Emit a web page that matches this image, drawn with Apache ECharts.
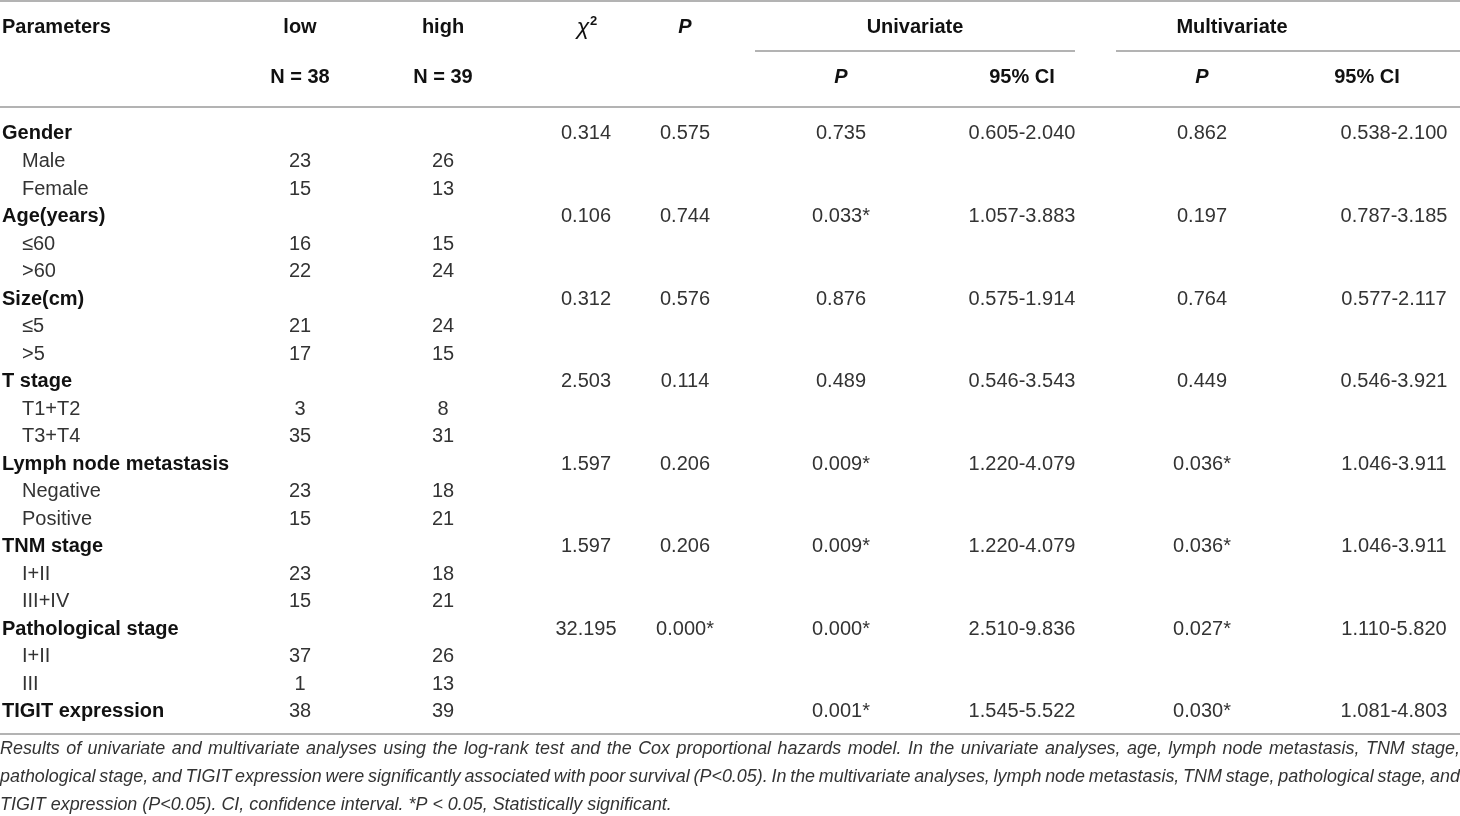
<!DOCTYPE html>
<html lang="en">
<head>
<meta charset="UTF-8">
<title>TIGIT expression table</title>
<style>
    html, body { margin: 0; padding: 0; background: #fff; }
    #main { width: 1460px; height: 816px; }
</style>
</head>
<body>
<div id="main"></div>
<script src="https://cdn.jsdelivr.net/npm/echarts@6.0.0/dist/echarts.min.js"></script>
<script>
    // 表格数据
    const rowLabels = ['Gender', 'Male', 'Female', 'Age(years)', '≤60', '>60', 'Size(cm)', '≤5', '>5',
        'T stage', 'T1+T2', 'T3+T4', 'Lymph node metastasis', 'Negative', 'Positive', 'TNM stage', 'I+II', 'III+IV',
        'Pathological stage', 'I+II', 'III', 'TIGIT expression'];
    const rowIsGroup = [1, 0, 0, 1, 0, 0, 1, 0, 0, 1, 0, 0, 1, 0, 0, 1, 0, 0, 1, 0, 0, 1];
    const lowN   = ['', '23', '15', '', '16', '22', '', '21', '17', '', '3', '35', '', '23', '15', '', '23', '15', '', '37', '1', '38'];
    const highN  = ['', '26', '13', '', '15', '24', '', '24', '15', '', '8', '31', '', '18', '21', '', '18', '21', '', '26', '13', '39'];
    const chiSq  = ['0.314', '', '', '0.106', '', '', '0.312', '', '', '2.503', '', '', '1.597', '', '', '1.597', '', '', '32.195', '', '', ''];
    const chiP   = ['0.575', '', '', '0.744', '', '', '0.576', '', '', '0.114', '', '', '0.206', '', '', '0.206', '', '', '0.000*', '', '', ''];
    const uniP   = ['0.735', '', '', '0.033*', '', '', '0.876', '', '', '0.489', '', '', '0.009*', '', '', '0.009*', '', '', '0.000*', '', '', '0.001*'];
    const uniCI  = ['0.605-2.040', '', '', '1.057-3.883', '', '', '0.575-1.914', '', '', '0.546-3.543', '', '', '1.220-4.079', '', '', '1.220-4.079', '', '', '2.510-9.836', '', '', '1.545-5.522'];
    const multiP = ['0.862', '', '', '0.197', '', '', '0.764', '', '', '0.449', '', '', '0.036*', '', '', '0.036*', '', '', '0.027*', '', '', '0.030*'];
    const multiCI = ['0.538-2.100', '', '', '0.787-3.185', '', '', '0.577-2.117', '', '', '0.546-3.921', '', '', '1.046-3.911', '', '', '1.046-3.911', '', '', '1.110-5.820', '', '', '1.081-4.803'];

    // 表头
    const headTop = ['Parameters', 'low', 'high', 'χ', 'P', 'Univariate', 'Multivariate'];
    const headBottom = ['N = 38', 'N = 39', 'P', '95% CI', 'P', '95% CI'];

    const footnote = [
        'Results of univariate and multivariate analyses using the log-rank test and the Cox proportional hazards model. In the univariate analyses, age, lymph node metastasis, TNM stage,',
        'pathological stage, and TIGIT expression were significantly associated with poor survival (P<0.05). In the multivariate analyses, lymph node metastasis, TNM stage, pathological stage, and',
        'TIGIT expression (P<0.05). CI, confidence interval. *P < 0.05, Statistically significant.'
    ];

    const FONT = '"Liberation Sans", Arial, sans-serif';
    const BODY = '#333';
    const HEAD = '#111';
    const RULE = '#9a9a9a';

    // 列的位置 (x 轴 0..1460)
    const colX = { low: 300, high: 443, chi: 586, p: 685, uniP: 841, uniCI: 1022, multiP: 1202, multiCI: 1394 };
    const headTopX = [2, 300, 443, 583, 685, 915, 1232];
    const headBottomX = [300, 443, 841, 1022, 1202, 1367];

    // 生成一列文字 (custom series)
    function cellSeries(grid, cells, style) {
        const data = cells.map(c => [c[0], c[1]]);
        const labels = cells.map(c => c[2]);
        return {
            type: 'custom',
            xAxisIndex: grid,
            yAxisIndex: grid,
            silent: true,
            encode: { x: 0, y: 1 },
            data: data,
            renderItem: function (params, api) {
                const pt = api.coord([api.value(0), api.value(1)]);
                return {
                    type: 'text',
                    x: pt[0],
                    y: pt[1] + (style.dy || 0),
                    style: {
                        text: labels[params.dataIndex],
                        fontFamily: FONT,
                        fontSize: style.fontSize || 20,
                        fontWeight: style.fontWeight || 'normal',
                        fontStyle: style.fontStyle || 'normal',
                        fill: style.fill || BODY,
                        align: style.align || 'center',
                        verticalAlign: 'middle'
                    }
                };
            }
        };
    }

    function column(values, x) {
        const cells = [];
        values.forEach((v, i) => { if (v !== '') cells.push([x, i, v]); });
        return cells;
    }

    const series = [];
    // 表头
    series.push(cellSeries(0, [[headTopX[0], 0, headTop[0]]], { align: 'left', fontWeight: 'bold', fill: HEAD }));
    series.push(cellSeries(0, [[headTopX[1], 0, headTop[1]], [headTopX[2], 0, headTop[2]],
        [headTopX[5], 0, headTop[5]], [headTopX[6], 0, headTop[6]]], { fontWeight: 'bold', fill: HEAD }));
    series.push(cellSeries(0, [[headTopX[3], 0, headTop[3]]], { fontSize: 23, fontStyle: 'italic', fill: HEAD, dy: 1 }));
    series.push(cellSeries(0, [[headTopX[3] + 7, 0, '2']], { align: 'left', fontSize: 13, fontWeight: 'bold', fill: HEAD, dy: -6 }));
    series.push(cellSeries(0, [[headTopX[4], 0, headTop[4]], [headBottomX[2], 1, headBottom[2]], [headBottomX[4], 1, headBottom[4]]],
        { fontWeight: 'bold', fontStyle: 'italic', fill: HEAD }));
    series.push(cellSeries(0, [[headBottomX[0], 1, headBottom[0]], [headBottomX[1], 1, headBottom[1]],
        [headBottomX[3], 1, headBottom[3]], [headBottomX[5], 1, headBottom[5]]], { fontWeight: 'bold', fill: HEAD }));

    // 行标题
    const groupCells = [], subCells = [];
    rowLabels.forEach((t, i) => {
        if (rowIsGroup[i]) groupCells.push([2, i, t]); else subCells.push([22, i, t]);
    });
    series.push(cellSeries(1, groupCells, { align: 'left', fontWeight: 'bold', fill: HEAD }));
    series.push(cellSeries(1, subCells, { align: 'left' }));

    // 数值列
    series.push(cellSeries(1, column(lowN, colX.low), {}));
    series.push(cellSeries(1, column(highN, colX.high), {}));
    series.push(cellSeries(1, column(chiSq, colX.chi), {}));
    series.push(cellSeries(1, column(chiP, colX.p), {}));
    series.push(cellSeries(1, column(uniP, colX.uniP), {}));
    series.push(cellSeries(1, column(uniCI, colX.uniCI), {}));
    series.push(cellSeries(1, column(multiP, colX.multiP), {}));
    series.push(cellSeries(1, column(multiCI, colX.multiCI), {}));

    // 注释: 两端对齐
    const ctx = document.createElement('canvas').getContext('2d');
    ctx.font = 'italic 18px ' + FONT;
    const noteSize = 18 * 672 / ctx.measureText(footnote[2]).width;
    ctx.font = 'italic ' + noteSize + 'px ' + FONT;
    const noteGraphics = [];
    footnote.forEach((line, li) => {
        const y = 749 + li * 28;
        const words = line.split(' ');
        const widths = words.map(w => ctx.measureText(w).width);
        const total = widths.reduce((a, b) => a + b, 0);
        const justify = li < footnote.length - 1;
        const gap = justify ? (1460 - total) / (words.length - 1) : ctx.measureText(' ').width;
        let x = 0;
        words.forEach((w, wi) => {
            noteGraphics.push({
                type: 'text', x: x, y: y, silent: true,
                style: { text: w, fontFamily: FONT, fontSize: noteSize, fontStyle: 'italic', fill: BODY, verticalAlign: 'middle' }
            });
            x += widths[wi] + gap;
        });
    });

    const rules = [
        [0, 1, 1460, 1], [755, 51, 1075, 51], [1116, 51, 1460, 51], [0, 107, 1460, 107], [0, 734, 1460, 734]
    ].map(r => ({
        type: 'line', silent: true,
        shape: { x1: r[0], y1: r[1], x2: r[2], y2: r[3] },
        style: { stroke: RULE, lineWidth: 1.6 }
    }));

    const myChart = echarts.init(document.getElementById('main'));
    const option = {
        animation: false,
        backgroundColor: '#fff',
        grid: [
            { left: 0, right: 0, top: 2, height: 100 },
            { left: 0, right: 0, top: 120.2, height: 605.5 }
        ],
        xAxis: [
            { type: 'value', gridIndex: 0, min: 0, max: 1460, show: false },
            { type: 'value', gridIndex: 1, min: 0, max: 1460, show: false }
        ],
        yAxis: [
            { type: 'category', gridIndex: 0, inverse: true, data: ['top', 'bottom'], show: false },
            { type: 'category', gridIndex: 1, inverse: true, data: rowLabels.map((t, i) => i + ':' + t), show: false }
        ],
        graphic: rules.concat(noteGraphics),
        series: series
    };
    myChart.setOption(option);
</script>
</body>
</html>
